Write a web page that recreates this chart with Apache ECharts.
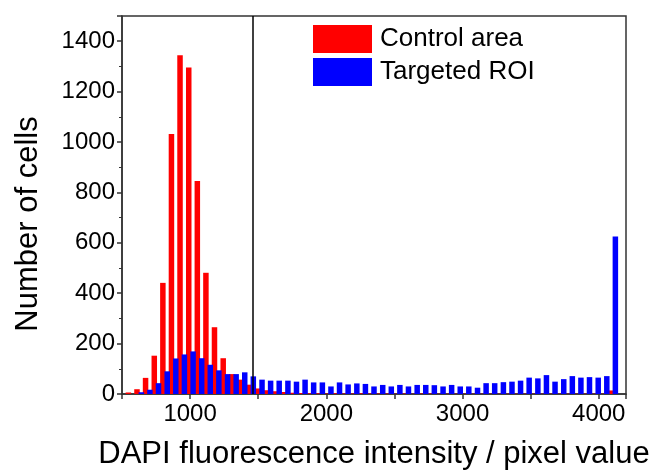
<!DOCTYPE html>
<html>
<head>
<meta charset="utf-8">
<script src="https://cdn.jsdelivr.net/npm/echarts@6/dist/echarts.min.js"></script>
<style>
  html, body { margin: 0; padding: 0; background: #fff; }
  #chart { width: 654px; height: 475px; }
</style>
</head>
<body>
<div id="chart"></div>
<script>
// bin centres (pixel value)
const controlBins = [547, 610, 673, 737, 800, 863, 926, 990, 1053, 1116,
  1179, 1243, 1306, 1369, 1432, 1496, 1559, 1622, 1686, 1749,
  1812, 1875, 1939, 2002, 2065, 2129, 2192, 2255, 2318, 2382,
  2445, 2508, 2571, 2635, 2698, 2761, 2824, 2888, 2951, 3014,
  3077, 3141, 3204, 3267, 3330, 3394, 3457, 3520, 3584, 3647,
  3710, 3773, 3837, 3900, 3963, 4026, 4089];
const controlCounts = [6, 19, 64, 152, 441, 1032, 1344, 1296, 845, 481,
  265, 142, 79, 57, 37, 22, 15, 11, 8, 5,
  4, 3, 3, 2, 3, 2, 2, 3, 2, 2,
  2, 1, 2, 1, 2, 2, 1, 1, 1, 1,
  1, 1, 1, 1, 1, 1, 1, 1, 1, 1,
  1, 1, 1, 1, 1, 1, 14];

const roiBins = [642, 705, 768, 832, 895, 958, 1022, 1085, 1148, 1211,
  1275, 1338, 1401, 1464, 1528, 1591, 1654, 1718, 1781, 1844,
  1907, 1971, 2034, 2097, 2160, 2224, 2287, 2350, 2414, 2477,
  2540, 2603, 2667, 2730, 2793, 2857, 2920, 2983, 3046, 3110,
  3173, 3236, 3300, 3363, 3426, 3489, 3553, 3616, 3679, 3743,
  3806, 3869, 3932, 3996, 4059, 4122];
const roiCounts = [7, 17, 43, 90, 141, 157, 169, 142, 116, 94,
  79, 79, 86, 70, 57, 53, 53, 53, 49, 57,
  46, 46, 30, 46, 38, 42, 40, 30, 36, 30,
  36, 30, 36, 36, 35, 30, 36, 30, 30, 25,
  43, 43, 47, 49, 53, 65, 62, 75, 49, 59,
  71, 65, 67, 65, 71, 625];

const thresholdX = 1460;

const FONT = '"Liberation Sans", Arial, sans-serif';
const AXIS_COLOR = '#333';

const pair = (xs, ys) => xs.map((x, i) => [x, ys[i]]);

const chart = echarts.init(document.getElementById('chart'), null, { renderer: 'canvas' });

chart.setOption({
  animation: false,
  backgroundColor: '#fff',
  grid: {
    left: 122, right: 28, top: 16, bottom: 80,
    show: true, borderColor: AXIS_COLOR, borderWidth: 1.5, backgroundColor: 'transparent'
  },
  legend: {
    orient: 'vertical',
    left: 313, top: 25,
    itemWidth: 59, itemHeight: 28, itemGap: 5,
    padding: 0,
    icon: 'rect',
    textStyle: { fontFamily: FONT, fontSize: 26, color: '#000', padding: [0, 0, 0, 3] },
    data: ['Control area', 'Targeted ROI']
  },
  xAxis: {
    type: 'value',
    min: 500, max: 4200, interval: 500,
    name: 'DAPI fluorescence intensity / pixel value',
    nameLocation: 'middle', nameGap: 45,
    nameTextStyle: { fontFamily: FONT, fontSize: 31, color: '#000' },
    axisLine: { show: true, lineStyle: { color: AXIS_COLOR, width: 1.5 } },
    axisTick: { show: true, length: 5, lineStyle: { color: AXIS_COLOR, width: 1.5 } },
    axisLabel: {
      fontFamily: FONT, fontSize: 24, color: '#000', margin: 8,
      formatter: v => (v % 1000 === 0 ? String(v) : '')
    },
    splitLine: { show: false }
  },
  yAxis: {
    type: 'value',
    min: 0, max: 1500, interval: 200,
    name: 'Number of cells',
    nameLocation: 'middle', nameGap: 78,
    // shift the rotated title a little towards the bottom, as in the original
    nameTextStyle: { fontFamily: FONT, fontSize: 31, color: '#000', padding: [0, 38, 0, 0] },
    axisLine: { show: true, lineStyle: { color: AXIS_COLOR, width: 1.5 } },
    axisTick: { show: true, length: 5, lineStyle: { color: AXIS_COLOR, width: 1.5 } },
    minorTick: { show: true, splitNumber: 2, length: 3, lineStyle: { color: AXIS_COLOR, width: 1 } },
    axisLabel: {
      fontFamily: FONT, fontSize: 24, color: '#000', margin: 7,
      formatter: v => (v % 200 === 0 ? String(v) : '')
    },
    splitLine: { show: false },
    minorSplitLine: { show: false }
  },
  series: [
    {
      name: 'Control area',
      type: 'bar',
      data: pair(controlBins, controlCounts),
      barWidth: 5.5,
      barGap: '-100%',
      itemStyle: { color: '#ff0000' },
      markLine: {
        silent: true,
        symbol: 'none',
        label: { show: false },
        lineStyle: { color: '#000', type: 'solid', width: 1.5 },
        data: [{ xAxis: thresholdX }]
      }
    },
    {
      name: 'Targeted ROI',
      type: 'bar',
      data: pair(roiBins, roiCounts),
      barWidth: 5.5,
      barGap: '-100%',
      itemStyle: { color: '#0000ff' }
    }
  ]
});
</script>
</body>
</html>
